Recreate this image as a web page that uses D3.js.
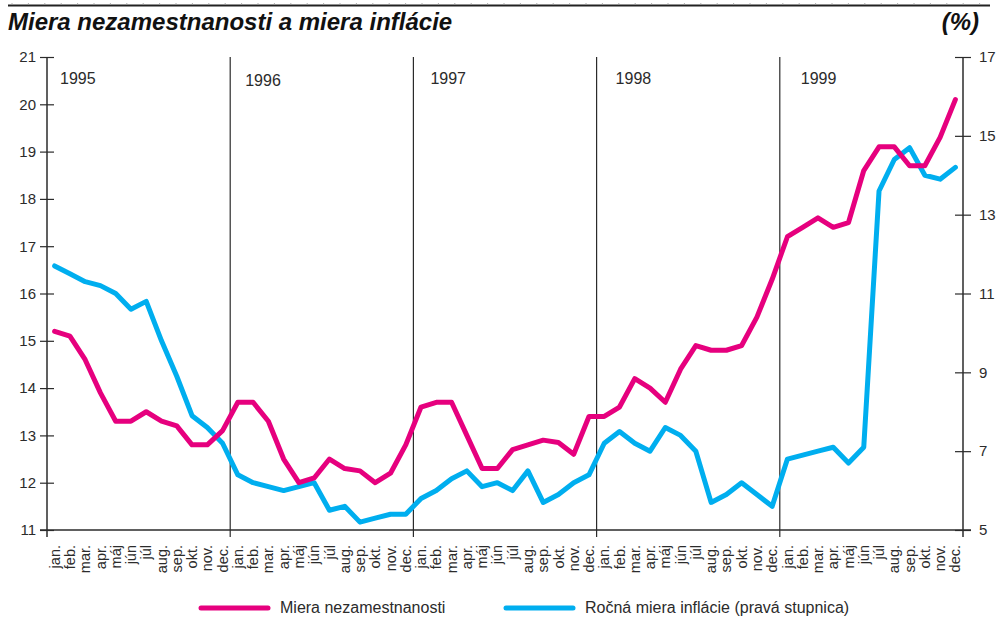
<!DOCTYPE html>
<html><head><meta charset="utf-8">
<script src="https://cdn.jsdelivr.net/npm/d3@7"></script>
<style>body{margin:0;background:#fff;}svg{display:block;font-family:"Liberation Sans",Arial,Helvetica,sans-serif;}</style>
</head><body><svg id="c" width="997" height="618"></svg>
<script>
const years = ["1995","1996","1997","1998","1999"];
const monthNames = ["jan.","feb.","mar.","apr.","máj","jún","júl","aug.","sep.","okt.","nov.","dec."];
const unemployment = [
 15.2,15.1,14.6,13.9,13.3,13.3,13.5,13.3,13.2,12.8,12.8,13.1,
 13.7,13.7,13.3,12.5,12.0,12.1,12.5,12.3,12.25,12.0,12.2,12.8,
 13.6,13.7,13.7,13.0,12.3,12.3,12.7,12.8,12.9,12.85,12.6,13.4,
 13.4,13.6,14.2,14.0,13.7,14.4,14.9,14.8,14.8,14.9,15.5,16.3,
 17.2,17.4,17.6,17.4,17.5,18.6,19.1,19.1,18.7,18.7,19.3,20.1];
const inflation = [
 11.7,11.5,11.3,11.2,11.0,10.6,10.8,9.8,8.9,7.9,7.6,7.2,
 6.4,6.2,6.1,6.0,6.1,6.2,5.5,5.6,5.2,5.3,5.4,5.4,
 5.8,6.0,6.3,6.5,6.1,6.2,6.0,6.5,5.7,5.9,6.2,6.4,
 7.2,7.5,7.2,7.0,7.6,7.4,7.0,5.7,5.9,6.2,5.9,5.6,
 6.8,6.9,7.0,7.1,6.7,7.1,13.6,14.4,14.7,14.0,13.9,14.2];
const leftTicks = [11,12,13,14,15,16,17,18,19,20,21];
const rightTicks = [5,7,9,11,13,15,17];
const title = "Miera nezamestnanosti a miera inflácie";
const unitLabel = "(%)";
const seriesNames = ["Miera nezamestnanosti","Ročná miera inflácie (pravá stupnica)"];
const colors = ["#e6007e","#00aeef"];

const months = [];
years.forEach(y => monthNames.forEach((m,i) => months.push({key:y+"-"+i, label:m, year:y, idx:i})));

const svg = d3.select("#c");
const L = 47, R = 963, T = 57, B = 530;
const x = d3.scaleBand().domain(months.map(d=>d.key)).range([L,R]);
const yL = d3.scaleLinear().domain([11,21]).range([B,T]);
const yR = d3.scaleLinear().domain([5,17]).range([B,T]);
const ink = "#2b2b2b";

// top rule
svg.append("line").attr("x1",8).attr("x2",990).attr("y1",5.5).attr("y2",5.5).attr("stroke","#222").attr("stroke-width",2);
svg.append("g").selectAll("line").data(d3.range(12,990,16.4)).join("line")
 .attr("x1",d=>d).attr("x2",d=>d).attr("y1",3).attr("y2",5).attr("stroke","#999").attr("stroke-width",0.8);

svg.append("text").attr("x",8).attr("y",30).attr("font-size",24).attr("font-weight","bold").attr("font-style","italic").attr("fill","#111").text(title);
svg.append("text").attr("x",979).attr("y",30).attr("text-anchor","end").attr("font-size",24).attr("font-weight","bold").attr("font-style","italic").attr("fill","#111").text(unitLabel);

// year dividers
const bounds = years.map((y,i)=> x(y+"-0"));
bounds.slice(1).forEach(bx=>{
  svg.append("line").attr("x1",bx).attr("x2",bx).attr("y1",T).attr("y2",B+7).attr("stroke",ink).attr("stroke-width",1.2);
});
years.forEach((y,i)=>{
  svg.append("text").attr("x",x(y+"-0")+13+i*2).attr("y",i===1?86:84).attr("font-size",16).attr("fill",ink).text(y);
});

// left axis
const gl = svg.append("g").attr("transform",`translate(${L},0)`)
 .call(d3.axisLeft(yL).tickValues(leftTicks).tickSize(7).tickPadding(4).tickFormat(d3.format("d")));
gl.select(".domain").remove();
gl.append("line").attr("x1",0).attr("x2",0).attr("y1",T).attr("y2",B+7).attr("stroke",ink).attr("stroke-width",1.5);
gl.selectAll(".tick line").attr("x1",-7).attr("x2",7).attr("stroke",ink).attr("stroke-width",1.2);
gl.selectAll(".tick text").attr("font-size",15).attr("fill",ink).attr("font-family","Liberation Sans, Arial, sans-serif").attr("x",-11);

// right axis
const gr = svg.append("g").attr("transform",`translate(${R},0)`)
 .call(d3.axisRight(yR).tickValues(rightTicks).tickSize(7).tickPadding(4).tickFormat(d3.format("d")));
gr.select(".domain").remove();
gr.append("line").attr("x1",0).attr("x2",0).attr("y1",T).attr("y2",B+7).attr("stroke",ink).attr("stroke-width",1.5);
gr.selectAll(".tick line").attr("x1",-8).attr("x2",8).attr("stroke",ink).attr("stroke-width",1.2);
gr.selectAll(".tick text").attr("font-size",15).attr("fill",ink).attr("font-family","Liberation Sans, Arial, sans-serif").attr("x",16);

// bottom axis
const gb = svg.append("g").attr("transform",`translate(0,${B})`)
 .call(d3.axisBottom(x).tickSize(0).tickFormat(k=>months.find(m=>m.key===k).label));
gb.select(".domain").remove();
gb.append("line").attr("x1",L-7).attr("x2",R+8).attr("y1",0).attr("y2",0).attr("stroke",ink).attr("stroke-width",1.5);
gb.selectAll(".tick text").attr("font-size",14.5).attr("fill",ink).attr("font-family","Liberation Sans, Arial, sans-serif")
 .attr("transform","rotate(-90)").attr("text-anchor","end").attr("x",-15).attr("y",0).attr("dy","0.35em");

// lines
const line = (scale)=> d3.line().x((d,i)=>x(months[i].key)+x.bandwidth()/2).y(d=>scale(d));
svg.append("path").datum(inflation).attr("d",line(yR)).attr("fill","none").attr("stroke",colors[1]).attr("stroke-width",5).attr("stroke-linejoin","round").attr("stroke-linecap","round");
svg.append("path").datum(unemployment).attr("d",line(yL)).attr("fill","none").attr("stroke",colors[0]).attr("stroke-width",5).attr("stroke-linejoin","round").attr("stroke-linecap","round");

// legend
const leg = [{x:201,c:colors[0],t:seriesNames[0]},{x:506,c:colors[1],t:seriesNames[1]}];
leg.forEach(l=>{
  svg.append("line").attr("x1",l.x).attr("x2",l.x+67).attr("y1",608).attr("y2",608).attr("stroke",l.c).attr("stroke-width",5).attr("stroke-linecap","round");
  svg.append("text").attr("x",l.x+79).attr("y",613).attr("font-size",16).attr("fill",ink).text(l.t);
});
</script></body></html>
